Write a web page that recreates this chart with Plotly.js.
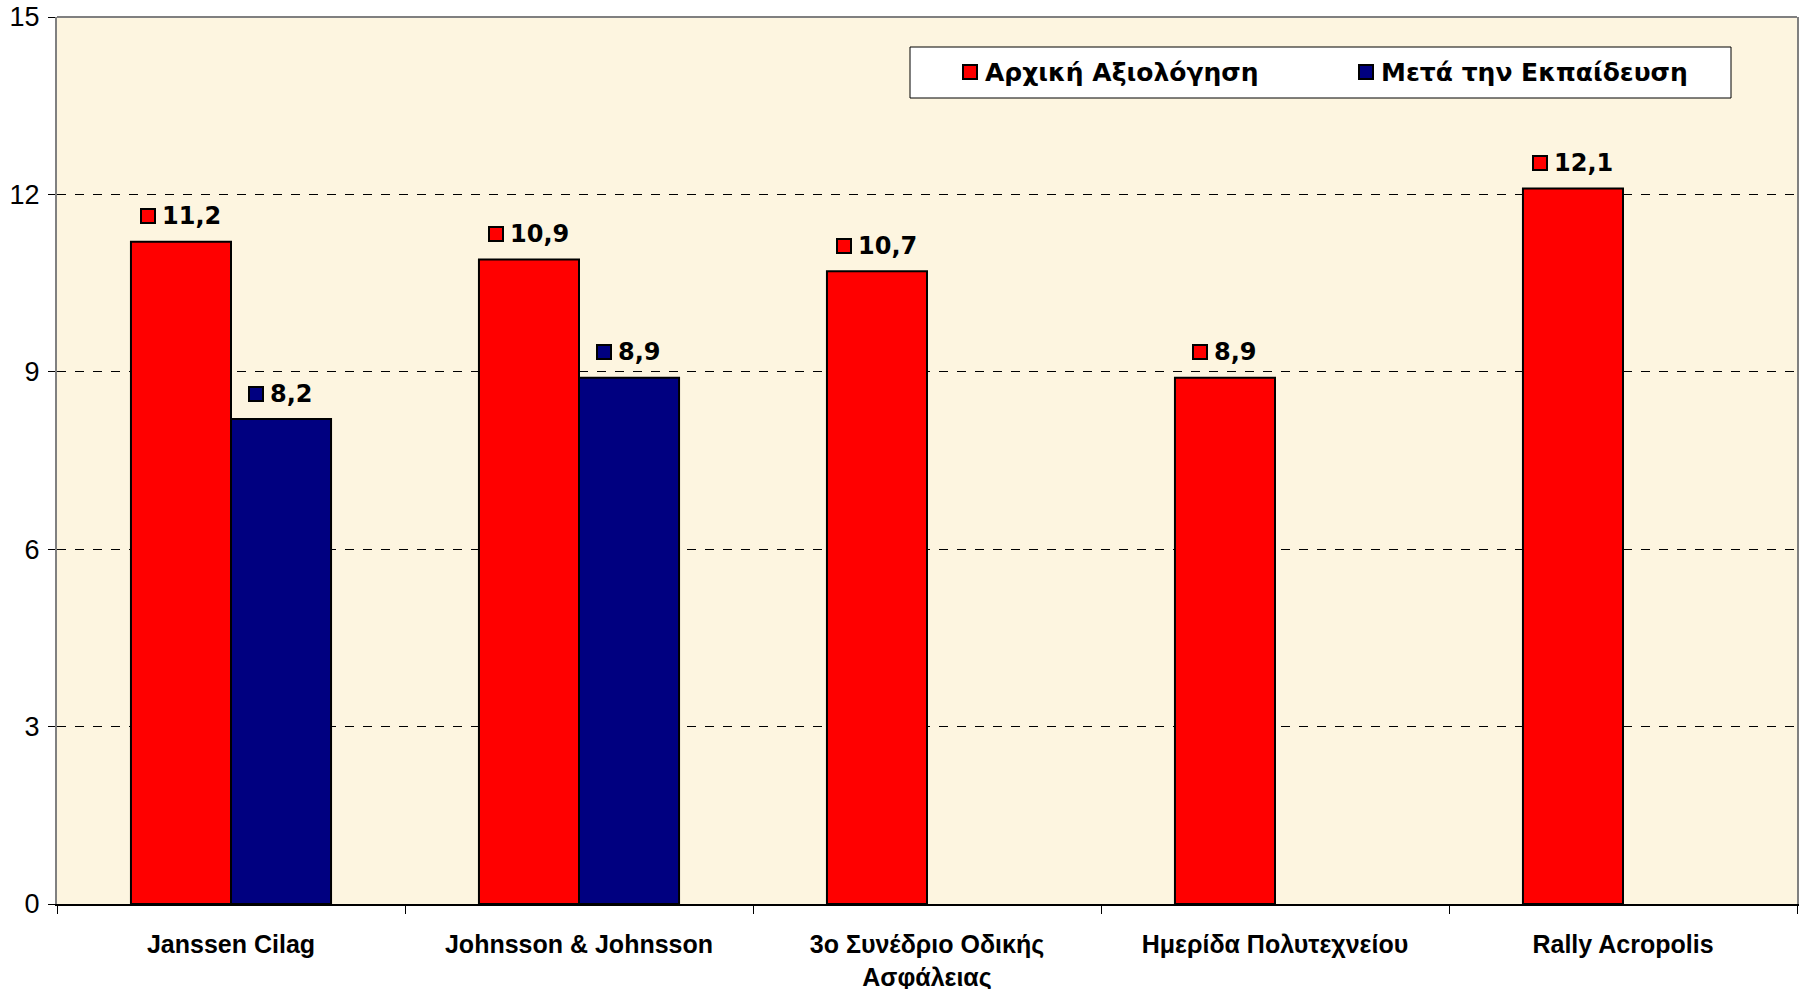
<!DOCTYPE html>
<html>
<head>
<meta charset="utf-8">
<script src="https://cdn.plot.ly/plotly-3.0.1.min.js"></script>
<style>html,body{margin:0;padding:0;background:#fff;}#chart{width:1800px;height:989px;}</style>
</head>
<body>
<div id="chart"></div>
<script>
// ---- data ----
const categories = ['Janssen Cilag', 'Johnsson & Johnsson', '3ο Συνέδριο Οδικής<br>Ασφάλειας', 'Ημερίδα Πολυτεχνείου', 'Rally Acropolis'];
const seriesNames = ['Αρχική Αξιολόγηση', 'Μετά την Εκπαίδευση'];
const initialScores = [11.2, 10.9, 10.7, 8.9, 12.1];
const afterTraining = [8.2, 8.9, null, null, null];
const yTickValues = [0, 3, 6, 9, 12, 15];
const seriesColors = ['#FF0000', '#000080'];

// ---- layout constants ----
const W = 1800, H = 989;
const M = {l: 57, r: 3, t: 17, b: 85};
const plotW = W - M.l - M.r, plotH = H - M.t - M.b;
const bargap = 0.425;
const catW = plotW / categories.length;
const barW = catW * (1 - bargap) / 2;

const labelFontSize = 24;
const charW = {',': 0.38, '.': 0.38};
function textWidth(s) {
  let w = 0;
  for (const c of s) w += (charW[c] || 0.696) * labelFontSize;
  return w;
}
function fmt(v) { return v.toFixed(1).replace('.', ','); }

const series = [initialScores, afterTraining];
const traces = series.map((vals, si) => ({
  type: 'bar',
  name: seriesNames[si],
  x: categories,
  y: vals,
  marker: {color: seriesColors[si], line: {color: '#000', width: 2}},
  hoverinfo: 'x+y',
  showlegend: false
}));

const annotations = [];
const sq = 16, gap = 7;
series.forEach((vals, si) => {
  const offset = (si === 0 ? -1 : 1) * barW / 2;
  vals.forEach((v, i) => {
    if (v === null) return;
    const t = fmt(v);
    const total = sq + gap + textWidth(t);
    const left = offset - total / 2;
    annotations.push({
      x: categories[i], y: v, xref: 'x', yref: 'y',
      xanchor: 'left', yanchor: 'middle', xshift: left, yshift: 25.5,
      text: '\u00A0', font: {size: 4}, width: 12, height: 12,
      bgcolor: seriesColors[si], bordercolor: '#000', borderwidth: 2, borderpad: 0,
      showarrow: false
    });
    annotations.push({
      x: categories[i], y: v, xref: 'x', yref: 'y',
      xanchor: 'left', yanchor: 'middle', xshift: left + sq + gap - 3, yshift: 25.5,
      text: t, font: {family: 'DejaVu Sans', size: labelFontSize, weight: 'bold', color: '#000'},
      showarrow: false
    });
  });
});

// legend (manual)
function px2paperX(px) { return (px - M.l) / plotW; }
function px2paperY(py) { return (H - M.b - py) / plotH; }
const legendBox = {x0: 910, x1: 1731, y0: 47, y1: 98};
const legendItems = [{sq: 962, tx: 983}, {sq: 1358, tx: 1379}];
const legendY = (legendBox.y0 + legendBox.y1) / 2;
legendItems.forEach((it, si) => {
  annotations.push({
    x: px2paperX(it.sq), y: px2paperY(legendY), xref: 'paper', yref: 'paper',
    xanchor: 'left', yanchor: 'middle',
    text: '\u00A0', font: {size: 4}, width: 12, height: 12,
    bgcolor: seriesColors[si], bordercolor: '#000', borderwidth: 2, borderpad: 0,
    showarrow: false
  });
  annotations.push({
    x: px2paperX(it.tx), y: px2paperY(legendY), xref: 'paper', yref: 'paper',
    xanchor: 'left', yanchor: 'middle',
    text: seriesNames[si],
    font: {family: 'DejaVu Sans', size: 25, weight: 'bold', color: '#000'},
    showarrow: false
  });
});

const shapes = [
  {type: 'rect', xref: 'paper', yref: 'paper',
   x0: px2paperX(legendBox.x0), x1: px2paperX(legendBox.x1),
   y0: px2paperY(legendBox.y1), y1: px2paperY(legendBox.y0),
   fillcolor: '#FFFFFF', line: {color: '#000', width: 1}, layer: 'above'},
  {type: 'line', xref: 'paper', yref: 'paper', x0: 0, x1: 1, y0: 1, y1: 1,
   line: {color: '#808080', width: 2}, layer: 'above'}
];

const layout = {
  width: W, height: H,
  margin: M,
  paper_bgcolor: '#FFFFFF',
  plot_bgcolor: '#FDF5E0',
  barmode: 'group',
  bargap: bargap,
  bargroupgap: 0,
  showlegend: false,
  xaxis: {
    type: 'category',
    showgrid: false,
    showline: true, linecolor: '#000', linewidth: 2,
    ticks: 'outside', tickson: 'boundaries', ticklen: 8, tickcolor: '#000', tickwidth: 1,
    tickfont: {family: 'Liberation Sans, Arial', size: 25, weight: 'bold', color: '#000'},
    ticklabelstandoff: 17,
    fixedrange: true
  },
  yaxis: {
    range: [0, 15],
    tickvals: yTickValues,
    ticktext: yTickValues.map(String),
    showgrid: true, gridcolor: '#000', gridwidth: 1, griddash: 'dash',
    zeroline: false,
    showline: true, linecolor: '#808080', linewidth: 2, mirror: true,
    ticks: 'outside', ticklen: 7, tickcolor: '#000', tickwidth: 1,
    tickfont: {family: 'Liberation Sans, Arial', size: 27, color: '#000'},
    ticklabelstandoff: 3,
    fixedrange: true
  },
  annotations: annotations,
  shapes: shapes
};

Plotly.newPlot('chart', traces, layout, {displayModeBar: false, staticPlot: true});
</script>
</body>
</html>
